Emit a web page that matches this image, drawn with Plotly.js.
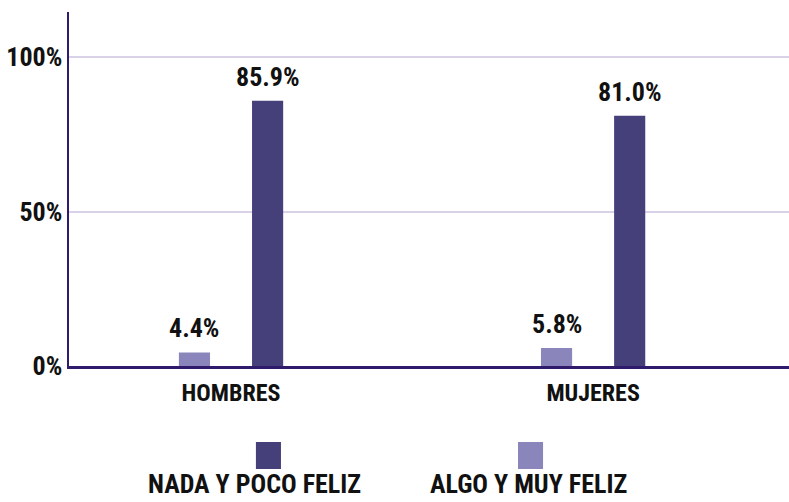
<!DOCTYPE html>
<html>
<head>
<meta charset="utf-8">
<script src="https://cdn.plot.ly/plotly-3.0.1.min.js"></script>
<style>html,body{margin:0;padding:0;background:#fff;}#chart{width:789px;height:502px;}
svg text{font-stretch:condensed !important;}</style>
</head>
<body>
<div id="chart"></div>
<script>
var categories = ["HOMBRES", "MUJERES"];
var seriesNames = ["NADA Y POCO FELIZ", "ALGO Y MUY FELIZ"];
var nadaPoco = [85.9, 81.0];
var algoMuy = [4.4, 5.8];
var seriesColors = ["#45407a", "#8a85bb"];
var yTicks = [0, 50, 100];

var FONT = "Roboto, 'DejaVu Sans', sans-serif";

var traces = [
  {type: "bar", name: seriesNames[1], x: categories, y: algoMuy,
   marker: {color: seriesColors[1]}, width: 0.086, offset: -0.144, hoverinfo: "none"},
  {type: "bar", name: seriesNames[0], x: categories, y: nadaPoco,
   marker: {color: seriesColors[0]}, width: 0.086, offset: 0.058, hoverinfo: "none"}
];

var annotations = [];
function addLabels(vals, off) {
  vals.forEach(function (v, i) {
    annotations.push({
      x: i + off, y: v, xref: "x", yref: "y", text: v.toFixed(1) + "%",
      showarrow: false, yanchor: "bottom", yshift: 7,
      font: {family: FONT, size: 26, color: "#111", weight: "bold"}
    });
  });
}
addLabels(algoMuy, -0.101);
addLabels(nadaPoco, 0.101);

var shapes = [];
var legendSquareX = [0.277, 0.641];
var legendTextX = [0.257, 0.6375];
seriesNames.forEach(function (n, i) {
  shapes.push({type: "rect", xref: "paper", yref: "paper",
    x0: legendSquareX[i] - 0.0174, x1: legendSquareX[i] + 0.0174,
    y0: -0.291, y1: -0.2147, fillcolor: seriesColors[i], line: {width: 0}});
  annotations.push({x: legendTextX[i], y: -0.287, xref: "paper", yref: "paper",
    text: n, showarrow: false, xanchor: "center", yanchor: "top", borderpad: 0,
    font: {family: FONT, size: 26, color: "#111", weight: "bold"}});
});

var layout = {
  width: 789, height: 502,
  margin: {l: 69, r: 0, t: 12, b: 136},
  paper_bgcolor: "#fff", plot_bgcolor: "#fff",
  showlegend: false,
  barmode: "overlay",
  font: {family: FONT, color: "#111"},
  xaxis: {
    type: "category", range: [-0.4475, 1.541],
    showline: true, linecolor: "#2f1a6c", linewidth: 2.5,
    showgrid: false, ticks: "", ticklabelstandoff: 4,
    tickfont: {family: FONT, size: 24, color: "#111", weight: "bold"}
  },
  yaxis: {
    range: [0, 114.6], tickmode: "array", tickvals: yTicks,
    ticktext: yTicks.map(function (t) { return t + "%"; }),
    showline: true, linecolor: "#2f1a6c", linewidth: 2.5,
    showgrid: true, gridcolor: "#d9d1e8", gridwidth: 2,
    zeroline: false, ticks: "", ticklabelstandoff: -1,
    tickfont: {family: FONT, size: 26, color: "#111", weight: "bold"}
  },
  annotations: annotations,
  shapes: shapes
};

Plotly.newPlot("chart", traces, layout, {displayModeBar: false, staticPlot: true});
</script>
</body>
</html>
